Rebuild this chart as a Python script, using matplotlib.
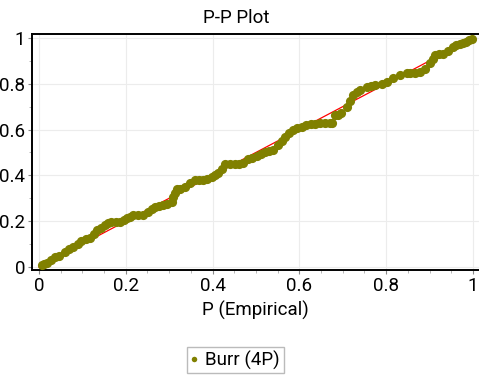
import matplotlib
matplotlib.use('Agg')
import matplotlib.pyplot as plt
from matplotlib.ticker import MultipleLocator

plt.rcParams['font.family'] = ['Roboto', 'DejaVu Sans']

# P-P plot values
p_empirical = [
    0.006, 0.012, 0.018, 0.027, 0.037, 0.047, 0.060, 0.069, 0.079, 0.089,
    0.098, 0.108, 0.118, 0.126, 0.133, 0.142, 0.152, 0.160, 0.167, 0.177,
    0.187, 0.195, 0.202, 0.210, 0.217, 0.228, 0.240, 0.252, 0.260, 0.267,
    0.276, 0.286, 0.296, 0.306, 0.309, 0.313, 0.317, 0.325, 0.336, 0.347,
    0.359, 0.369, 0.379, 0.388, 0.398, 0.406, 0.413, 0.421, 0.429, 0.440,
    0.452, 0.462, 0.471, 0.482, 0.492, 0.502, 0.512, 0.521, 0.530, 0.540,
    0.551, 0.559, 0.567, 0.576, 0.586, 0.595, 0.605, 0.616, 0.628, 0.637,
    0.647, 0.658, 0.670, 0.676, 0.682, 0.690, 0.697, 0.709, 0.716, 0.724,
    0.732, 0.740, 0.755, 0.764, 0.774, 0.790, 0.801, 0.816, 0.832, 0.847,
    0.856, 0.866, 0.878, 0.889, 0.901, 0.907, 0.912, 0.922, 0.932, 0.943,
    0.955, 0.962, 0.970, 0.978, 0.985, 0.991, 0.997,
]
p_theoretical = [
    0.009, 0.012, 0.019, 0.030, 0.042, 0.050, 0.067, 0.078, 0.089, 0.102,
    0.115, 0.122, 0.125, 0.145, 0.162, 0.172, 0.183, 0.193, 0.198, 0.198,
    0.198, 0.206, 0.213, 0.220, 0.227, 0.227, 0.227, 0.241, 0.252, 0.261,
    0.266, 0.271, 0.276, 0.285, 0.307, 0.322, 0.339, 0.340, 0.351, 0.365,
    0.380, 0.380, 0.380, 0.386, 0.392, 0.400, 0.409, 0.430, 0.450, 0.450,
    0.450, 0.451, 0.453, 0.470, 0.478, 0.486, 0.495, 0.504, 0.508, 0.511,
    0.533, 0.551, 0.569, 0.584, 0.598, 0.606, 0.613, 0.619, 0.624, 0.626,
    0.628, 0.628, 0.628, 0.628, 0.664, 0.664, 0.671, 0.700, 0.725, 0.751,
    0.762, 0.773, 0.787, 0.791, 0.795, 0.798, 0.809, 0.824, 0.838, 0.848,
    0.848, 0.848, 0.853, 0.863, 0.889, 0.908, 0.926, 0.928, 0.929, 0.943,
    0.962, 0.967, 0.972, 0.978, 0.984, 0.989, 0.994,
]
ref_line = [0, 1]
tick_vals = [0, 0.2, 0.4, 0.6, 0.8, 1.0]
tick_text = ['0', '0.2', '0.4', '0.6', '0.8', '1']

fig = plt.figure(figsize=(4.79, 3.77), dpi=100)
ax = fig.add_axes([0.0668, 0.2838, 0.9332, 0.626])

ax.plot(ref_line, ref_line, color='#ff0000', linewidth=0.9, zorder=2)
ax.plot(p_empirical, p_theoretical, linestyle='none', marker='o',
        markersize=6.6, color='#808000', markeredgewidth=0, zorder=3,
        label='Burr (4P)')

ax.set_xlim(-0.016, 1.014)
ax.set_ylim(-0.013, 1.017)
ax.xaxis.set_minor_locator(MultipleLocator(0.05))
ax.yaxis.set_minor_locator(MultipleLocator(0.1))
ax.set_xticks(tick_vals, tick_text)
ax.set_yticks(tick_vals, tick_text)
ax.tick_params(axis='both', which='major', labelsize=13.5, length=3, width=0.8,
               color='#888888', pad=2)
ax.tick_params(axis='both', which='minor', length=2, width=0.6, color='#aaaaaa')
ax.grid(True, which='major', color='#ececec', linewidth=0.8)
ax.set_axisbelow(True)

for side in ['left', 'bottom', 'top']:
    ax.spines[side].set_color('black')
    ax.spines[side].set_linewidth(1.4)
ax.spines['right'].set_visible(False)

ax.set_xlabel('P (Empirical)', fontsize=13.5, labelpad=4)
fig.text(0.493, 0.951, 'P-P Plot', fontsize=13.5, ha='center', va='center')

fig.legend(loc='center', bbox_to_anchor=(0.491, 0.045), fontsize=13.5,
           frameon=True, fancybox=False, edgecolor='#aaaaaa',
           handlelength=0.4, handletextpad=0.4, borderpad=0.2,
           markerscale=0.6)

plt.savefig('out.png', dpi=100)
